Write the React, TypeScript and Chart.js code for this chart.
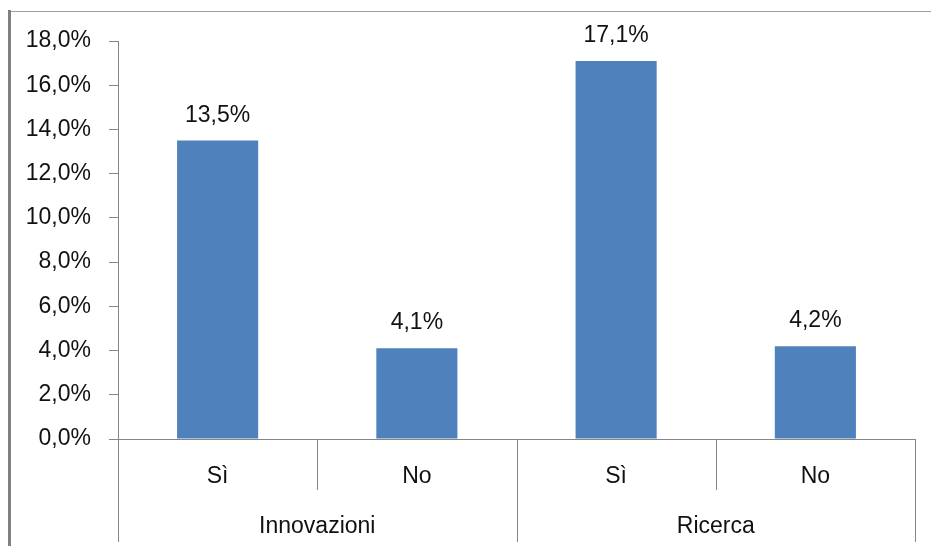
import React, { useEffect, useRef } from "react";
import { Chart, registerables } from "chart.js";

Chart.register(...registerables);

const subLabels = ["Sì", "No", "Sì", "No"];
const groupLabels = ["Innovazioni", "Ricerca"];
const groupSize = 2;
const values = [13.5, 4.1, 17.1, 4.2];
const yMin = 0;
const yMax = 18;
const yStep = 2;

const FONT = "'Liberation Sans', Arial, sans-serif";
const FONT_SIZE = 23;
const AXIS_GRAY = "#868686";
const BAR_COLOR = "#4F81BD";

const fmt = (v: number) => v.toFixed(1).replace(".", ",") + "%";

const decorPlugin = {
  id: "decor",
  afterDraw(chart: any) {
    const ctx = chart.ctx as CanvasRenderingContext2D;
    const x = chart.scales.x;
    const area = chart.chartArea;
    ctx.save();
    // frame
    ctx.strokeStyle = "#a0a0a0";
    ctx.lineWidth = 1;
    ctx.beginPath();
    ctx.moveTo(9, 11.5);
    ctx.lineTo(chart.width, 11.5);
    ctx.stroke();
    ctx.strokeStyle = "#808080";
    ctx.lineWidth = 3;
    ctx.beginPath();
    ctx.moveTo(9.5, 10);
    ctx.lineTo(9.5, chart.height);
    ctx.stroke();

    // value labels
    const meta = chart.getDatasetMeta(0);
    ctx.fillStyle = "#111";
    ctx.font = `${FONT_SIZE}px ${FONT}`;
    ctx.textAlign = "center";
    ctx.textBaseline = "alphabetic";
    meta.data.forEach((bar: any, i: number) => {
      ctx.fillText(fmt(values[i]), bar.x, bar.y - 19);
    });

    // multi-level x axis
    const catW = x.getPixelForValue(1) - x.getPixelForValue(0);
    const base = area.bottom;
    ctx.strokeStyle = AXIS_GRAY;
    ctx.lineWidth = 1;
    subLabels.forEach((lab, i) => {
      const cx = x.getPixelForValue(i);
      ctx.fillText(lab, cx, base + 44);
      const right = Math.round(cx + catW / 2) + 0.5;
      if ((i + 1) % groupSize !== 0) {
        ctx.beginPath();
        ctx.moveTo(right, base);
        ctx.lineTo(right, base + 51);
        ctx.stroke();
      }
    });
    groupLabels.forEach((lab, g) => {
      const left = x.getPixelForValue(g * groupSize) - catW / 2;
      const right = x.getPixelForValue(g * groupSize + groupSize - 1) + catW / 2;
      ctx.fillText(lab, (left + right) / 2, base + 94);
      [left, right].forEach((px) => {
        const p = Math.round(px) + 0.5;
        ctx.beginPath();
        ctx.moveTo(p, base);
        ctx.lineTo(p, base + 103);
        ctx.stroke();
      });
    });
    ctx.restore();
  },
};

export default function App() {
  const ref = useRef<HTMLCanvasElement | null>(null);
  useEffect(() => {
    if (!ref.current) return;
    const chart = new Chart(ref.current, {
      type: "bar",
      data: {
        labels: subLabels,
        datasets: [
          {
            data: values,
            backgroundColor: BAR_COLOR,
            borderWidth: 0,
            barPercentage: 0.407,
            categoryPercentage: 1,
          },
        ],
      },
      options: {
        animation: false,
        responsive: false,
        maintainAspectRatio: false,
        layout: { padding: { left: 0, top: 41, right: 16, bottom: 0 } },
        plugins: {
          legend: { display: false },
          tooltip: { enabled: false },
        },
        scales: {
          x: {
            type: "category",
            grid: { display: false },
            border: { display: true, color: AXIS_GRAY, width: 1 },
            ticks: { display: false },
            afterFit: (s: any) => {
              s.height = 107;
            },
          },
          y: {
            min: yMin,
            max: yMax,
            grid: {
              drawOnChartArea: false,
              drawTicks: true,
              tickLength: 9,
              color: AXIS_GRAY,
            },
            border: { display: true, color: AXIS_GRAY, width: 1 },
            ticks: {
              stepSize: yStep,
              padding: 18,
              color: "#111",
              font: { family: FONT, size: FONT_SIZE },
              callback: (v: any) => fmt(Number(v)),
            },
            afterFit: (s: any) => {
              s.width = 118;
            },
          },
        },
      },
      plugins: [decorPlugin],
    });
    return () => chart.destroy();
  }, []);
  return (
    <div style={{ position: "fixed", left: 0, top: 0, width: 931, height: 546, background: "#fff" }}>
      <canvas ref={ref} width={931} height={546} style={{ width: 931, height: 546, display: "block" }} />
    </div>
  );
}
